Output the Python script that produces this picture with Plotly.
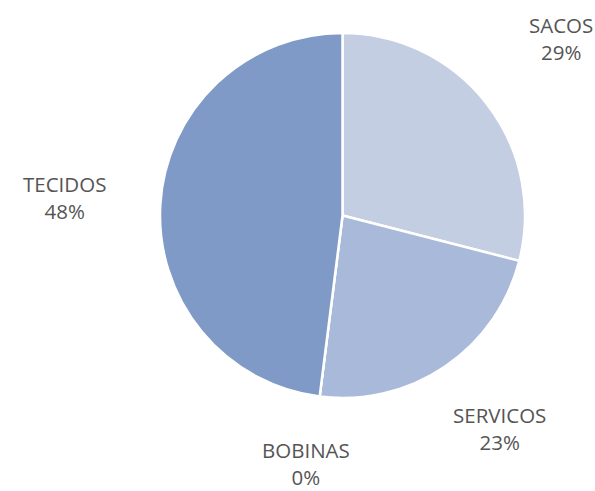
import plotly.graph_objects as go

categories = ["SACOS", "SERVICOS", "BOBINAS", "TECIDOS"]
values = [29, 23, 0, 48]
colors = ["#C4CEE2", "#A9B9D9", "#92A8D0", "#7F9AC7"]

# label anchor positions (paper coords)
label_pos = {
    "SACOS": (0.943, 0.921),
    "SERVICOS": (0.840, 0.127),
    "BOBINAS": (0.515, 0.055),
    "TECIDOS": (0.109, 0.598),
}

total = sum(values)
fig = go.Figure(go.Pie(
    labels=categories,
    values=values,
    sort=False,
    direction="clockwise",
    rotation=0,
    textinfo="none",
    hoverinfo="label+percent",
    marker=dict(colors=colors, line=dict(color="white", width=2.5)),
    domain=dict(x=[0.2689, 0.8824], y=[0.1894, 0.9328]),
    showlegend=False,
))

for cat, v in zip(categories, values):
    x, y = label_pos[cat]
    fig.add_annotation(
        x=x, y=y, xref="paper", yref="paper",
        text=f"{cat}<br>{round(v / total * 100)}%",
        showarrow=False, xanchor="center", yanchor="middle",
        font=dict(family="Open Sans", size=20.5, color="#555555"),
    )

fig.update_layout(
    width=595, height=491,
    margin=dict(l=0, r=0, t=0, b=0),
    paper_bgcolor="white", plot_bgcolor="white",
)
fig.write_html(
    "out.html",
    config={"displayModeBar": False},
    post_script="document.body.style.margin='0';document.body.style.overflow='hidden';",
)
